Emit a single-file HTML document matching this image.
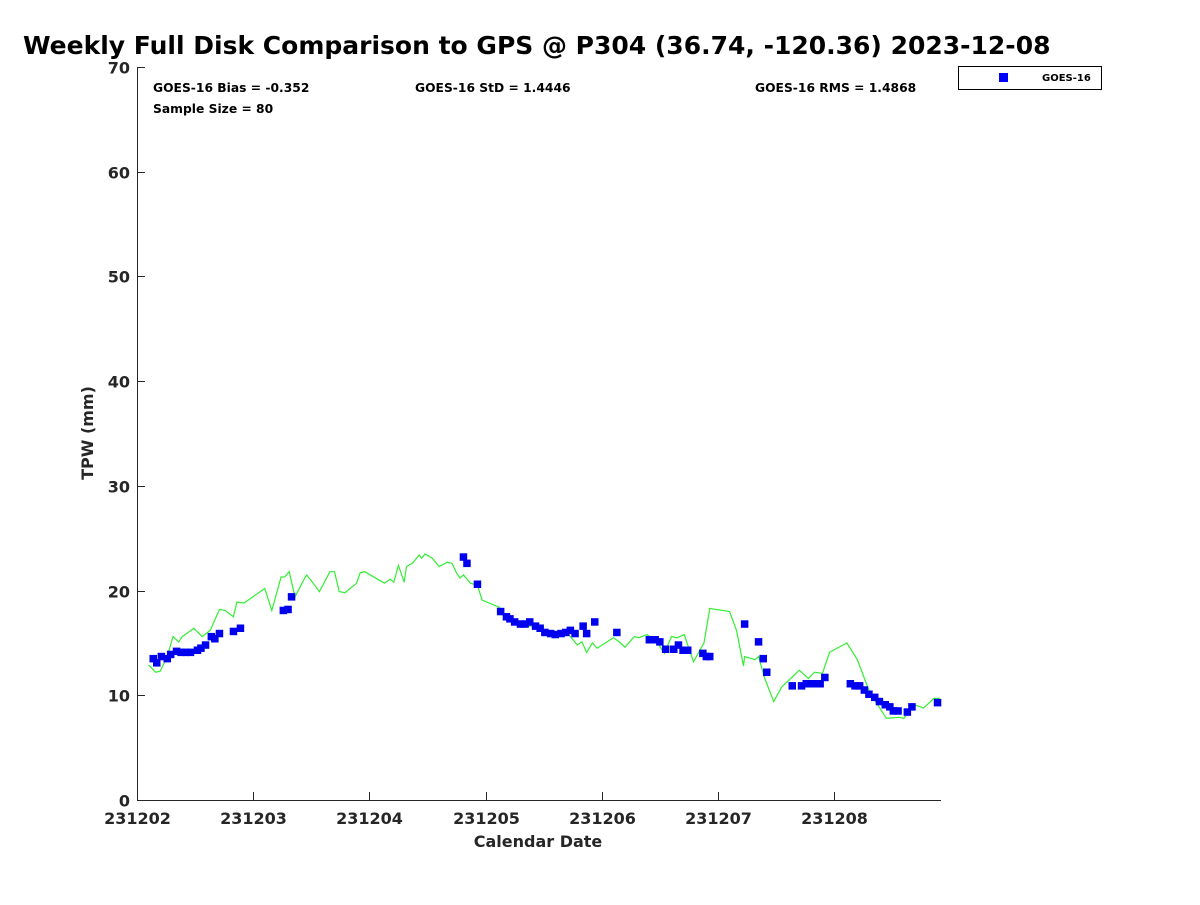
<!DOCTYPE html>
<html><head><meta charset="utf-8"><style>
body{margin:0;background:#fff;font-family:"Liberation Sans","DejaVu Sans",sans-serif}
svg text{font-family:"DejaVu Sans","Liberation Sans",sans-serif}
</style></head><body>
<svg id="chart" width="1200" height="900" xmlns="http://www.w3.org/2000/svg">
<rect width="1200" height="900" fill="#fff"/>
<text x="23" y="54" font-size="25" font-weight="bold" fill="#000">Weekly Full Disk Comparison to GPS @ P304 (36.74, -120.36) 2023-12-08</text>
<g id="axes"></g>
<g id="marks"></g>
<text x="153" y="92" font-size="12.3" font-weight="bold" fill="#000">GOES-16 Bias = -0.352</text>
<text x="415" y="92" font-size="12.3" font-weight="bold" fill="#000">GOES-16 StD = 1.4446</text>
<text x="755" y="92" font-size="12.3" font-weight="bold" fill="#000">GOES-16 RMS = 1.4868</text>
<text x="153" y="113" font-size="12.3" font-weight="bold" fill="#000">Sample Size = 80</text>
<g>
<rect x="958.5" y="66.5" width="143" height="23" fill="#fff" stroke="#000" stroke-width="1"/>
<rect x="999" y="73" width="9" height="9" fill="#0000ff"/>
<text x="1042" y="81" font-size="10" font-weight="bold" fill="#000">GOES-16</text>
</g>
<text x="538" y="847" font-size="16" font-weight="bold" fill="#262626" text-anchor="middle">Calendar Date</text>
<text x="0" y="0" font-size="16" font-weight="bold" fill="#262626" text-anchor="middle" transform="translate(93,433) rotate(-90)">TPW (mm)</text>
</svg>
<script>
const xTickLabels=["231202","231203","231204","231205","231206","231207","231208"];
const yTicks=[0,10,20,30,40,50,60,70];
const gpsDays=[0.10,0.16,0.20,0.26,0.31,0.36,0.39,0.49,0.56,0.63,0.71,0.76,0.83,0.86,0.92,1.10,1.16,1.24,1.27,1.31,1.36,1.42,1.46,1.51,1.57,1.66,1.70,1.74,1.79,1.89,1.92,1.96,2.13,2.18,2.21,2.25,2.30,2.32,2.37,2.43,2.45,2.48,2.54,2.60,2.67,2.71,2.75,2.78,2.81,2.87,2.93,2.97,3.12,3.17,3.23,3.30,3.44,3.53,3.64,3.70,3.79,3.83,3.87,3.92,3.96,4.10,4.15,4.20,4.28,4.32,4.39,4.48,4.54,4.60,4.65,4.71,4.79,4.88,4.93,5.10,5.16,5.22,5.23,5.32,5.35,5.40,5.48,5.55,5.70,5.78,5.83,5.90,5.96,6.11,6.20,6.31,6.45,6.56,6.60,6.69,6.77,6.86,6.91];
const gpsTPW=[12.9,12.2,12.3,13.7,15.6,15.1,15.6,16.4,15.6,16.2,18.2,18.1,17.5,18.9,18.8,20.2,18.1,21.3,21.3,21.8,19.4,20.7,21.5,20.8,19.9,21.8,21.8,19.9,19.8,20.7,21.7,21.8,20.7,21.1,20.8,22.4,20.8,22.3,22.6,23.4,23.1,23.5,23.1,22.3,22.7,22.6,21.7,21.2,21.5,20.7,20.5,19.1,18.4,17.2,17.2,16.5,16.7,16.0,15.6,16.0,14.8,15.1,14.1,15.0,14.5,15.5,15.1,14.6,15.6,15.5,15.8,15.0,14.0,15.6,15.5,15.8,13.2,15.0,18.3,18.0,16.2,12.8,13.7,13.4,13.7,11.7,9.4,10.8,12.4,11.6,12.2,12.1,14.1,15.0,13.4,10.2,7.8,7.9,7.8,9.1,8.8,9.7,9.7];
const goesDays=[0.14,0.17,0.21,0.26,0.29,0.34,0.38,0.42,0.46,0.52,0.55,0.59,0.64,0.67,0.71,0.83,0.89,1.26,1.30,1.33,2.81,2.84,2.93,3.13,3.18,3.21,3.25,3.30,3.34,3.38,3.43,3.47,3.51,3.56,3.60,3.65,3.69,3.73,3.77,3.84,3.87,3.94,4.13,4.41,4.46,4.50,4.55,4.62,4.66,4.70,4.74,4.87,4.90,4.93,5.23,5.35,5.39,5.42,5.64,5.72,5.76,5.80,5.83,5.88,5.92,6.14,6.18,6.22,6.26,6.30,6.35,6.39,6.44,6.48,6.51,6.55,6.63,6.67,6.89];
const goesTPW=[13.5,13.1,13.7,13.5,13.9,14.2,14.1,14.1,14.1,14.3,14.5,14.8,15.6,15.4,15.9,16.1,16.4,18.1,18.2,19.4,23.2,22.6,20.6,18.0,17.5,17.3,17.0,16.8,16.8,17.0,16.6,16.4,16.0,15.9,15.8,15.9,16.0,16.2,15.9,16.6,15.9,17.0,16.0,15.3,15.3,15.1,14.4,14.4,14.8,14.3,14.3,14.0,13.7,13.7,16.8,15.1,13.5,12.2,10.9,10.9,11.1,11.1,11.1,11.1,11.7,11.1,10.9,10.9,10.5,10.1,9.8,9.4,9.1,8.9,8.5,8.5,8.4,8.9,9.3];
const X0=137,X1=941,Y0=800,Y1=67,XMAX=6.92,YMAX=70;
const xs=d=>X0+d/XMAX*(X1-X0);
const ys=v=>Y0-v/YMAX*(Y0-Y1);
const NS="http://www.w3.org/2000/svg";
function mk(t,a,p){const e=document.createElementNS(NS,t);for(const k in a)e.setAttribute(k,a[k]);p.appendChild(e);return e;}
const axes=document.getElementById('axes'),marks=document.getElementById('marks');
let ax=mk('path',{d:`M${X0+0.5},${Y1}V${Y0+0.5}H${X1}`,fill:'none',stroke:'#262626','stroke-width':1},axes);


yTicks.forEach(v=>{const y=Math.round(ys(v))+0.5;
 const l=mk('line',{x1:X0,x2:X0+8,y1:y,y2:y,stroke:'#262626'},axes);
 
 
 const t=mk('text',{x:X0-7,y:y+6,'font-size':16,'font-weight':'bold',fill:'#262626','text-anchor':'end'},axes);t.textContent=v;
 
 });
xTickLabels.forEach((s,i)=>{const x=Math.round(xs(i))+0.5;
 const l=mk('line',{x1:x,x2:x,y1:Y0,y2:Y0-8,stroke:'#262626'},axes);
 
 
 const t=mk('text',{x:x,y:824,'font-size':16,'font-weight':'bold',fill:'#262626','text-anchor':'middle'},axes);t.textContent=s;
 
 });
const line=mk('polyline',{points:gpsDays.map((d,i)=>xs(d).toFixed(1)+','+ys(gpsTPW[i]).toFixed(1)).join(' '),fill:'none',stroke:'#33ee33','stroke-width':1.2},marks);


goesDays.forEach((d,i)=>{const r=mk('rect',{x:(xs(d)-3.75).toFixed(1),y:(ys(goesTPW[i])-3.75).toFixed(1),width:7.5,height:7.5,fill:'#0000ee'},marks);
 
 });
</script>
</body></html>
